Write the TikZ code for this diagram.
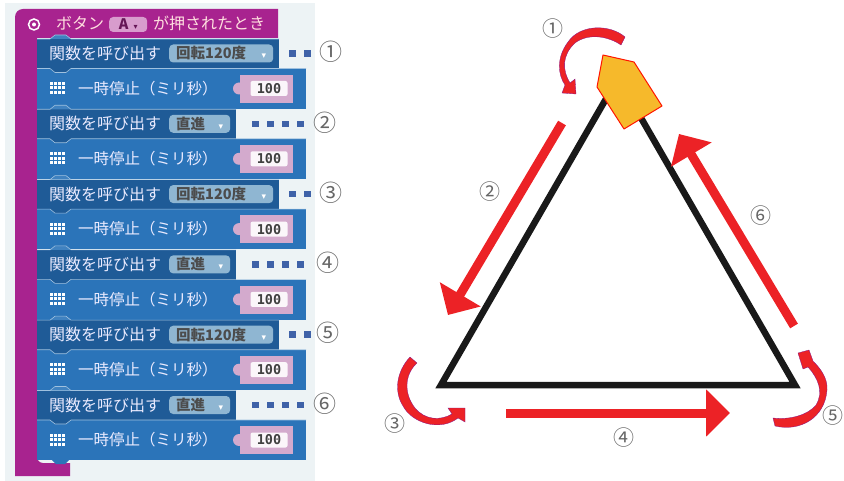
\documentclass[tikz,border=0pt]{standalone}
\usepackage{fontspec}
\newfontfamily\cjk{Noto Sans CJK JP}
\newfontfamily\sym{DejaVu Sans}
\newfontfamily\code{DejaVu Sans Mono}
\usetikzlibrary{arrows.meta,positioning}
\definecolor{hatc}{HTML}{A8238F}
\definecolor{callc}{HTML}{1F5B97}
\definecolor{pausec}{HTML}{2B74B9}
\definecolor{arrowc}{HTML}{EC2226}
\definecolor{valc}{HTML}{D3AACD}
\definecolor{pillc}{HTML}{8FB6D2}
\definecolor{panelc}{HTML}{EDF3F5}
\definecolor{dotc}{HTML}{3F62A8}
\definecolor{robotc}{HTML}{F6B92B}
\begin{document}
\begin{tikzpicture}[
  x=1pt,y=-1pt,
  callblk/.style={anchor=north west,fill=callc,minimum height=29.5pt,inner sep=0pt},
  pauseblk/.style={anchor=north west,fill=pausec,minimum width=269pt,minimum height=40pt,inner sep=0pt},
  lbl/.style={anchor=west,inner sep=0pt,font=\cjk\fontsize{16}{16}\selectfont,text=blue!8!white},
  pill/.style={anchor=west,rounded corners=4pt,fill=#1,inner sep=0pt,minimum height=18pt,font=\cjk\fontsize{14.5}{15}\selectfont\bfseries,text=black!70},
  valblk/.style={anchor=north west,fill=valc,inner sep=0pt,minimum width=53pt,minimum height=28pt},
  valtxt/.style={rounded corners=2pt,fill=white!90!valc,inner sep=0pt,minimum width=37pt,minimum height=15pt,font=\code\fontsize{13.5}{14}\selectfont\bfseries,text=black!75},
  dots/.style={draw=dotc,line width=6.5pt,dash pattern=on 6.5pt off 8.5pt},
  num/.style={inner sep=0pt,font=\cjk\fontsize{23}{23}\selectfont,text=black!60},
  mrk/.style={num,font=\cjk\fontsize{21}{21}\selectfont},
  tri/.style={line width=6.5pt,black!90,line join=miter},
  ar/.style={-{Triangle[length=24pt,width=46pt]},line width=9pt,arrowc},
  bent/.style={fill=arrowc,draw=blue!45!arrowc,line width=.3pt}
]
\useasboundingbox (0,0) rectangle (844,481);
\fill[panelc] (5,3) rectangle (315,481);

% event block
\fill[hatc] (15,476) [rounded corners=8pt] -- (15,9) [sharp corners] -- (278,9) -- (278,38) -- (37,38)
   [rounded corners=6pt] -- (37,463) [sharp corners] -- (70,463) -- (70,476) -- cycle;
\node[circle,draw=white,line width=1.5pt,minimum size=11pt,inner sep=0pt] (ev) at (34,24.5) {};
\fill[white] (ev) circle (2pt);
\node[lbl,text=pink!50!white] (btn) at (56,23.5) {ボタン};
\node[pill=hatc!45!white,minimum width=38pt,minimum height=15pt,text=hatc!60!black] (btnA) at (109,24.5) {A\,{\sym\fontsize{8}{8}\selectfont\ ▾}};
\node[lbl,text=pink!50!white] (pressed) at (153,23.5) {が押されたとき};

% six call and pause rows
\foreach \i/\nm/\pname/\blkw/\pw/\dsx/\dex/\nx in {
  1/①/回転120度/242/104/289/311/331,
  2/②/直進/199/61/252/306/325,
  3/③/回転120度/242/104/289/311/331,
  4/④/直進/199/61/252/306/328,
  5/⑤/回転120度/242/104/289/311/328,
  6/⑥/直進/199/61/252/306/325}{
  \pgfmathsetmacro{\y}{39+70.3*(\i-1)}
  \pgfmathsetmacro{\yp}{\y+29.5}
  \pgfmathsetmacro{\yc}{\y+14.5}
  \pgfmathsetmacro{\ym}{\yp+20}
  \node[callblk,minimum width=\blkw pt] (call\i) at (37,\y) {};
  \node[pauseblk] (pause\i) at (37,\yp) {};
  % notches
  \fill[pausec!90!white] (50,\y) -- (55,\y-4) -- (66,\y-4) -- (71,\y) -- cycle;
  \fill[callc] (50,\yp) -- (55,\yp+4) -- (66,\yp+4) -- (71,\yp) -- cycle;
  \draw[white!55!pausec,line width=.6pt] (37,\y) -- (50,\y) -- (55,\y-4) -- (66,\y-4) -- (71,\y) -- (37+\blkw,\y);
  \draw[white!55!pausec,line width=.6pt] (37,\yp) -- (50,\yp) -- (55,\yp+4) -- (66,\yp+4) -- (71,\yp) -- (306,\yp);
  % call row
  \node[lbl] (fn\i) at (49,\yc) {関数を呼び出す};
  \node[pill=pillc,minimum width=\pw pt] (arg\i) at (169,\yc) {\makebox[\dimexpr\pw pt-14pt\relax][l]{\pname\hfill{\sym\fontsize{9}{9}\selectfont\color{white}▾}}};
  % pause row
  \draw[white,line width=3pt,dash pattern=on 3pt off 1pt] (50,\ym-5) -- (66,\ym-5) (50,\ym-.5) -- (66,\ym-.5) (50,\ym+4) -- (66,\ym+4);
  \node[lbl,font=\cjk\fontsize{15.5}{16}\selectfont] (wait\i) at (78,\ym) {一時停止（ミリ秒）};
  \fill[valc] (239,\ym) circle (6pt);
  \node[valblk] (valb\i) at (240,\ym-14) {};
  \node[valtxt] (val\i) at (269,\ym) {100};
  % marks
  \node[num] (n\i) at (\nx,\yc-1.5) {\nm};
  \coordinate (ds\i) at (\dsx,\yc);
  \coordinate (de\i) at (\dex,\yc);
  \draw[dots] (ds\i) -- (de\i);
}
\fill[pausec] (52,460) -- (56,464) -- (65,464) -- (69,460) -- cycle;

% triangle
\coordinate (apex) at (618,78);
\coordinate (bl) at (441,385);
\coordinate (br) at (795,385);
\draw[tri] (apex) -- (bl) -- (br) -- cycle;
\draw[fill=robotc,draw=red!85!orange,line width=1pt,line join=round] (603,55) -- (634,62) -- (662,106) -- (624,129) -- (597,87) -- cycle;

% straight arrows
\coordinate (a2s) at (562,123);
\coordinate (a2e) at (448,315);
\coordinate (a4s) at (506,413);
\coordinate (a4e) at (730,413);
\coordinate (a6s) at (794,326);
\coordinate (a6e) at (679,134);
\draw[ar] (a2s) -- (a2e);
\draw[ar] (a4s) -- (a4e);
\draw[ar] (a6s) -- (a6e);

% curved arrows
\draw[bent] (625,37) .. controls (610,24) and (580,24) .. (568,42) .. controls (556,58) and (558,75) .. (565,85)
  -- (562,93) -- (576,94) -- (575,79) -- (570,83) .. controls (562,70) and (562,55) .. (575,43) .. controls (588,33) and (608,36) .. (621,45) -- cycle;
\draw[bent] (410,357) .. controls (396,372) and (394,392) .. (403,406) .. controls (412,423) and (440,432) .. (458,418)
  -- (465,422) -- (465,408) -- (448,408) -- (452,414) .. controls (440,421) and (425,420) .. (415,408) .. controls (404,394) and (404,375) .. (417,363) -- cycle;
\draw[bent] (773,418) -- (775,426) .. controls (800,432) and (825,418) .. (827,390) .. controls (828,378) and (820,368) .. (813,361)
  -- (809,350) -- (798,353) -- (803,369) -- (808,367) .. controls (818,378) and (824,392) .. (816,405) .. controls (808,415) and (790,420) .. (773,418) -- cycle;

% marks on the triangle
\node[mrk] (m1) at (553,29) {①};
\node[mrk] (m2) at (490,192) {②};
\node[mrk] (m3) at (395,424) {③};
\node[mrk] (m4) at (624,438) {④};
\node[mrk] (m5) at (833,416) {⑤};
\node[mrk] (m6) at (761,216) {⑥};
\end{tikzpicture}
\end{document}
